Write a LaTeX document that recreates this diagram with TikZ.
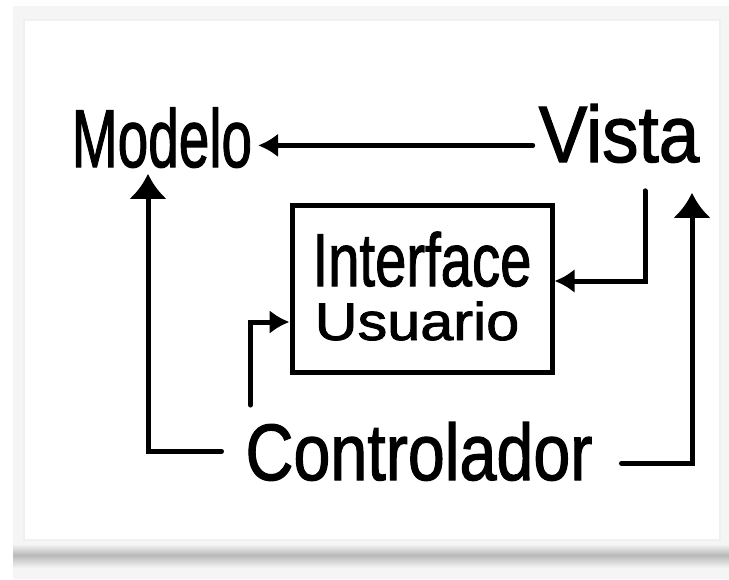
\documentclass[tikz,border=0pt]{standalone}
\usepackage{fontspec}
\setmainfont{Liberation Sans}
\newfontfamily\handfont{Liberation Sans}[FakeBold=1.6]
\usepackage{tikz}
\usetikzlibrary{positioning, arrows.meta}

\newcommand{\hw}[2]{\scalebox{#1}[1]{#2}}

\begin{document}
\begin{tikzpicture}[x=1pt, y=-1pt,
    hand/.style={inner sep=0pt, outer sep=6pt, anchor=base, text=black},
    arr/.style={line width=5pt, line cap=round, -{Latex[length=20pt,width=24pt]}},
    uparr/.style={line width=5pt, line cap=round, -{Latex[length=25pt,width=38pt]}}]
    % Frame and card
    \useasboundingbox (0,0) rectangle (729,579);
    \fill[white] (0,0) rectangle (729,579);
    \fill[gray!8] (13,6) rectangle (729,579);
    \shade[top color=gray!8, bottom color=gray!55] (13,544) rectangle (729,555);
    \shade[top color=gray!55, bottom color=gray!8] (13,555) rectangle (729,568);
    \fill[white, draw=gray!12, line width=2pt] (24,20) rectangle (720,540);
    % Nodes for the parts
    \node[hand, font=\handfont\fontsize{82}{82}\selectfont] (mdl) at (162,167) {\hw{0.67}{Modelo}};
    \node[hand, font=\handfont\fontsize{80}{80}\selectfont] (vis) at (619,162) {\hw{0.91}{Vista}};
    \node[hand, font=\handfont\fontsize{80}{80}\selectfont] (ctrl) at (419,480) {\hw{0.83}{Controlador}};
    % User interface box
    \node[draw, line width=5pt, minimum width=260pt, minimum height=167pt] (iface) at (422,289) {};
    \node[hand, font=\handfont\fontsize{75}{75}\selectfont] (itxt) at (422,286) {\hw{0.75}{Interface}};
    \node[hand, font=\handfont\fontsize{53}{53}\selectfont] (utxt) at (417,340) {\hw{1.12}{Usuario}};
    % Connections
    \draw[arr] ([yshift=-12pt]vis.west) -- ([yshift=-12pt]vis.west -| mdl.east);
    \draw[arr] ([xshift=26pt,yshift=-22pt]vis.south) |- ([yshift=8pt]iface.east);
    \draw[uparr] ([xshift=-18pt]ctrl.west) -| ([xshift=-14pt]mdl.south);
    \draw[uparr] ([xshift=23pt,yshift=-12pt]ctrl.east) -| ([xshift=73pt,yshift=-24pt]vis.south);
    \draw[arr] ([xshift=11pt,yshift=11pt]ctrl.north west) |- ([yshift=-33pt]iface.west);
\end{tikzpicture}
\end{document}
